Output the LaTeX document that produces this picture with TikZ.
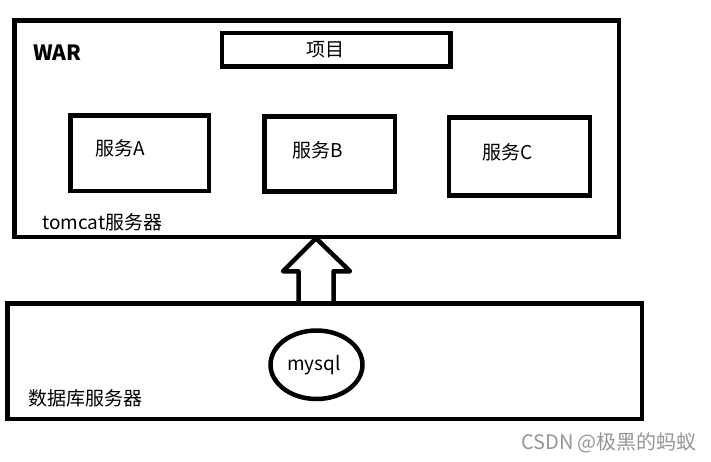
\documentclass[tikz,border=0pt]{standalone}
\usepackage{fontspec}
\setmainfont{Noto Sans CJK SC}
\usetikzlibrary{calc,shapes.geometric}
\definecolor{wm}{RGB}{150,150,150}
\tikzset{
  box/.style={draw=black, line width=4.5pt, rectangle, inner sep=0pt, fill=none},
  lbl/.style={inner sep=0pt, anchor=center, font=\fontsize{19}{21}\selectfont},
}
\begin{document}
\begin{tikzpicture}[x=1pt,y=-1pt]
\fill[white] (0,0) rectangle (711,462);
\useasboundingbox (0,0) rectangle (711,462);
% containers
\node[box, minimum width=604.5pt, minimum height=216.5pt] (tomcat) at (316.75,128.75) {};
\node[box, minimum width=228.5pt, minimum height=33.5pt] (proj) at (336.25,49.75) {};
\node[box, minimum width=138.5pt, minimum height=75.5pt] (sa) at (139.75,153.25) {};
\node[box, minimum width=130.5pt, minimum height=75pt] (sb) at (329.75,154) {};
\node[box, minimum width=141pt, minimum height=78pt] (sc) at (519.5,156.5) {};
\node[box, minimum width=634.5pt, minimum height=115.5pt] (db) at (324.75,361.25) {};
\node[box, ellipse, minimum width=92pt, minimum height=68.5pt] (mysql) at (316.5,364.75) {};
% texts
\node[lbl, font=\fontsize{21}{23}\selectfont\bfseries] (war) at (57.5,53) {WAR};
\node[lbl] (projt) at (325,50) {项目};
\node[lbl] (sat) at (120.5,148) {服务A};
\node[lbl] (sbt) at (317.5,150) {服务B};
\node[lbl] (sct) at (508,152) {服务C};
\node[lbl] (tomt) at (102.5,222) {tomcat服务器};
\node[lbl] (mysqlt) at (314,365) {mysql};
\node[lbl] (dbt) at (85,398) {数据库服务器};
\node[lbl, text=wm, font=\fontsize{20}{22}\selectfont] (wmt) at (609,443) {CSDN @极黑的蚂蚁};
% big up arrow from db to tomcat
\coordinate (tip) at ($(tomcat.south)+(-0.75,-1)$);
\coordinate (hl) at ($(tomcat.south)+(-33.75,32)$);
\coordinate (hr) at ($(tomcat.south)+(33.25,32)$);
\coordinate (sl) at ($(tomcat.south)+(-18.25,32)$);
\coordinate (sr) at ($(tomcat.south)+(16.75,32)$);
\draw[line width=4.5pt, line join=round] (sl |- db.north) -- (sl) -- (hl) -- (tip) -- (hr) -- (sr) -- (sr |- db.north);
\end{tikzpicture}
\end{document}
